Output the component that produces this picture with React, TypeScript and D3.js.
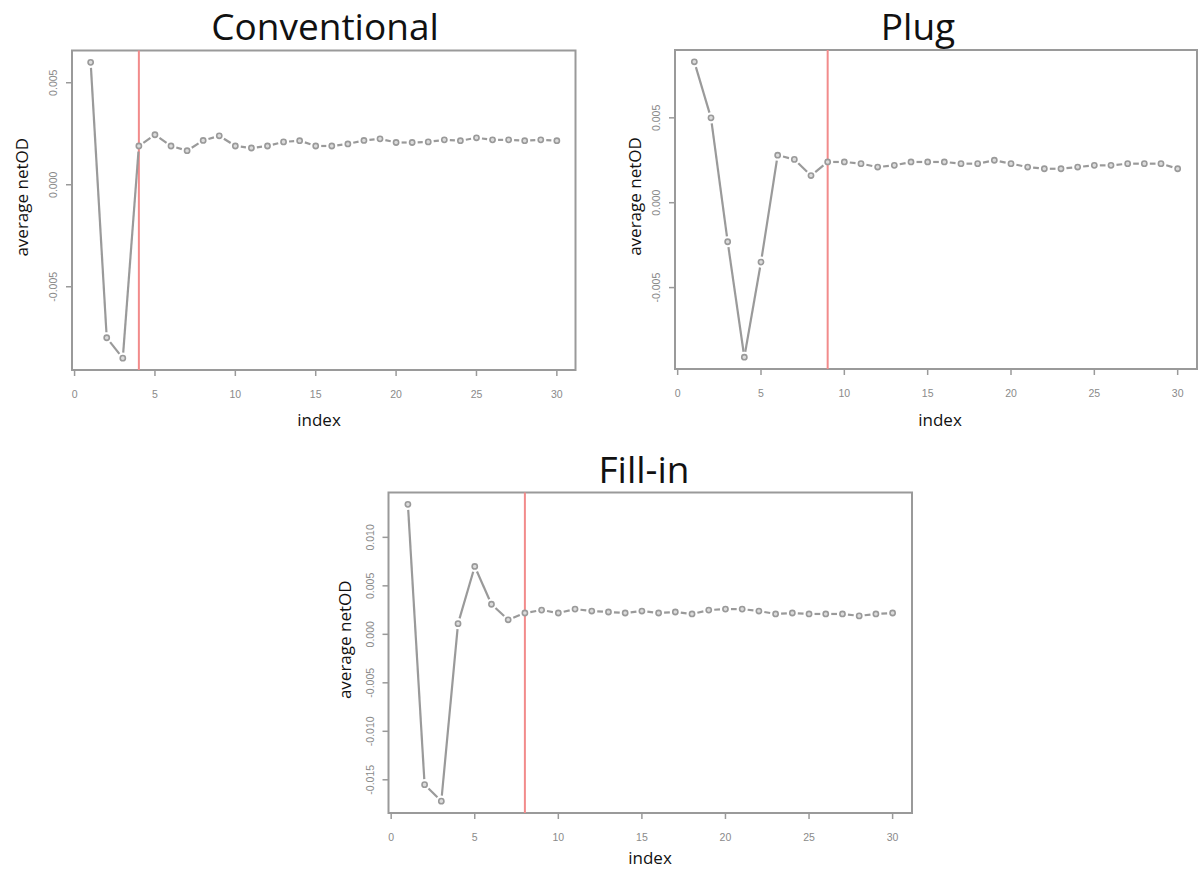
import React, { useEffect, useRef } from 'react';
import * as d3 from 'd3';

// index 1..30, average netOD
const indexValues = [1, 2, 3, 4, 5, 6, 7, 8, 9, 10, 11, 12, 13, 14, 15, 16, 17, 18, 19, 20, 21, 22, 23, 24, 25, 26, 27, 28, 29, 30];

const conventional = [0.0060, -0.0075, -0.0085, 0.0019, 0.00245, 0.0019, 0.00167, 0.00217, 0.0024, 0.0019,
  0.0018, 0.0019, 0.0021, 0.00216, 0.0019, 0.0019, 0.0020, 0.00217, 0.00225, 0.00207,
  0.00207, 0.0021, 0.0022, 0.00216, 0.0023, 0.0022, 0.0022, 0.00216, 0.0022, 0.00216];

const plug = [0.0083, 0.0050, -0.0023, -0.0091, -0.0035, 0.0028, 0.00255, 0.0016, 0.0024, 0.0024,
  0.0023, 0.0021, 0.0022, 0.0024, 0.0024, 0.0024, 0.0023, 0.0023, 0.0025, 0.0023,
  0.0021, 0.0020, 0.0020, 0.0021, 0.0022, 0.0022, 0.0023, 0.0023, 0.0023, 0.0020];

const fillIn = [0.0134, -0.0155, -0.0172, 0.0011, 0.0070, 0.0031, 0.0015, 0.0022, 0.0025, 0.0022,
  0.0026, 0.0024, 0.0023, 0.0022, 0.0024, 0.0022, 0.0023, 0.0021, 0.0025, 0.0026,
  0.0026, 0.0024, 0.0021, 0.0022, 0.0021, 0.0021, 0.0021, 0.0019, 0.0021, 0.0022];

const titles = ['Conventional', 'Plug', 'Fill-in'];
const cutoffs = [4, 9, 8];

const xTicks = [0, 5, 10, 15, 20, 25, 30];
const yTicksConventional = [-0.005, 0, 0.005];
const yTicksPlug = [-0.005, 0, 0.005];
const yTicksFillIn = [-0.015, -0.010, -0.005, 0, 0.005, 0.010];

// plot boxes on the page
const layout = [
  { left: 72, right: 575.5, top: 50.5, bottom: 370, titleX: 325, titleY: 40, yLabelX: 21, indexX: 319, indexY: 426 },
  { left: 675, right: 1197, top: 50, bottom: 369, titleX: 918, titleY: 40, yLabelX: 634, indexX: 940, indexY: 426 },
  { left: 388.5, right: 912, top: 492.5, bottom: 813, titleX: 644, titleY: 483, yLabelX: 344, indexX: 650, indexY: 864 },
];

const GREY = '#9a9a9a';

// R style range padding (4%)
function padded(ext: [number, number]): [number, number] {
  const d = (ext[1] - ext[0]) * 0.04;
  return [ext[0] - d, ext[1] + d];
}

export default function App() {
  const ref = useRef<SVGSVGElement>(null);

  useEffect(() => {
    const svg = d3.select(ref.current);
    svg.selectAll('*').remove();

    const series = [conventional, plug, fillIn];
    const yTickSets = [yTicksConventional, yTicksPlug, yTicksFillIn];

    series.forEach((values, p) => {
      const L = layout[p];
      const x = d3.scaleLinear().domain(padded(d3.extent(indexValues) as [number, number])).range([L.left, L.right]);
      const y = d3.scaleLinear().domain(padded(d3.extent(values) as [number, number])).range([L.bottom, L.top]);
      const g = svg.append('g');

      // title
      g.append('text')
        .attr('x', L.titleX).attr('y', L.titleY)
        .attr('text-anchor', 'middle')
        .style('font-family', 'Open Sans, sans-serif')
        .style('font-size', '37px')
        .attr('fill', '#111')
        .text(titles[p]);

      // box
      g.append('rect')
        .attr('x', L.left).attr('y', L.top)
        .attr('width', L.right - L.left).attr('height', L.bottom - L.top)
        .attr('fill', 'white').attr('stroke', GREY).attr('stroke-width', 2);

      // x axis ticks
      const xt = g.selectAll('.xt').data(xTicks).enter().append('g')
        .attr('transform', d => 'translate(' + x(d) + ',' + L.bottom + ')');
      xt.append('line').attr('y1', 0).attr('y2', 6).attr('stroke', GREY).attr('stroke-width', 1.5);
      xt.append('text').attr('y', 28).attr('text-anchor', 'middle')
        .style('font-family', 'Liberation Sans, Arial, sans-serif').style('font-size', '10.5px')
        .attr('fill', '#8a8a8a').text(d => String(d));

      // y axis ticks
      const yt = g.selectAll('.yt').data(yTickSets[p]).enter().append('g')
        .attr('transform', d => 'translate(' + L.left + ',' + y(d) + ')');
      yt.append('line').attr('x1', 0).attr('x2', -6).attr('stroke', GREY).attr('stroke-width', 1.5);
      yt.append('text').attr('transform', 'translate(-19,0) rotate(-90)')
        .attr('text-anchor', 'middle').attr('dominant-baseline', 'central')
        .style('font-family', 'Liberation Sans, Arial, sans-serif').style('font-size', '10.5px')
        .attr('fill', '#8a8a8a').text(d => d.toFixed(3));

      // axis labels
      g.append('text')
        .attr('transform', 'translate(' + L.yLabelX + ',' + ((L.top + L.bottom) / 2 - 13) + ') rotate(-90)')
        .attr('text-anchor', 'middle').attr('dominant-baseline', 'central')
        .style('font-family', 'Open Sans, sans-serif').style('font-size', '17px')
        .attr('fill', '#111').text('average netOD');
      g.append('text')
        .attr('x', L.indexX).attr('y', L.indexY).attr('text-anchor', 'middle')
        .style('font-family', 'Open Sans, sans-serif').style('font-size', '17px')
        .attr('fill', '#111').text('index');

      // cutoff line
      g.append('line')
        .attr('x1', x(cutoffs[p])).attr('x2', x(cutoffs[p]))
        .attr('y1', L.top).attr('y2', L.bottom)
        .attr('stroke', '#f28b8b').attr('stroke-width', 2);

      // type = "b": segments with gaps around the points
      const pts = values.map((v, i) => [x(indexValues[i]), y(v)]);
      const gap = 5.5;
      const segs = [];
      for (let i = 0; i < pts.length - 1; i++) {
        const [x0, y0] = pts[i];
        const [x1, y1] = pts[i + 1];
        const len = Math.hypot(x1 - x0, y1 - y0);
        if (len <= 2 * gap) continue;
        const ux = (x1 - x0) / len, uy = (y1 - y0) / len;
        segs.push([x0 + ux * gap, y0 + uy * gap, x1 - ux * gap, y1 - uy * gap]);
      }
      g.selectAll('.seg').data(segs).enter().append('line')
        .attr('x1', d => d[0]).attr('y1', d => d[1])
        .attr('x2', d => d[2]).attr('y2', d => d[3])
        .attr('stroke', GREY).attr('stroke-width', 2.2);

      g.selectAll('.pt').data(values).enter().append('circle')
        .attr('cx', (d, i) => x(indexValues[i])).attr('cy', d => y(d))
        .attr('r', 2.6)
        .attr('fill', '#dcdcdc').attr('stroke', GREY).attr('stroke-width', 1.6);
    });
  }, []);

  return (
    <svg ref={ref} width={1198} height={875}
      style={{ position: 'absolute', left: 0, top: 0, background: 'white' }} />
  );
}
